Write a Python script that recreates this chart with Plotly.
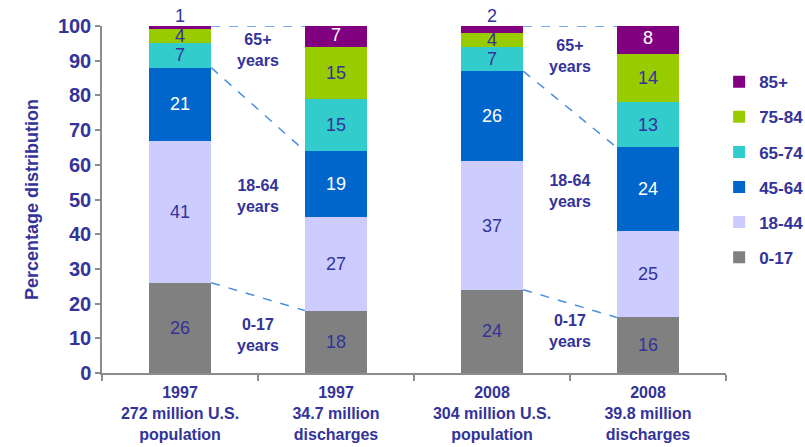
import plotly.graph_objects as go

# Category labels (one per stacked bar)
groups = [
    "1997<br>272 million U.S.<br>population",
    "1997<br>34.7 million<br>discharges",
    "2008<br>304 million U.S.<br>population",
    "2008<br>39.8 million<br>discharges",
]

# Percentage distribution by age group, one value per bar
age_groups = ["0-17", "18-44", "45-64", "65-74", "75-84", "85+"]
share_0_17 = [26, 18, 24, 16]
share_18_44 = [41, 27, 37, 25]
share_45_64 = [21, 19, 26, 24]
share_65_74 = [7, 15, 7, 13]
share_75_84 = [4, 15, 4, 14]
share_85_plus = [1, 7, 2, 8]

y_ticks = [0, 10, 20, 30, 40, 50, 60, 70, 80, 90, 100]

series = [share_0_17, share_18_44, share_45_64, share_65_74, share_75_84, share_85_plus]
colors = ["#808080", "#CCCCFF", "#0066CC", "#33CCCC", "#99CC00", "#800080"]
TXT = "#333399"
FONT = "Liberation Sans, Arial, sans-serif"
BAR_W = 0.4
Y_MAX = 100
x_pos = list(range(len(groups)))

fig = go.Figure()

for k, (name, vals, col) in enumerate(zip(age_groups, series, colors)):
    white = name == "45-64"
    is_top = name == "85+"
    fig.add_trace(go.Bar(
        x=x_pos, y=vals, name=name, width=BAR_W,
        marker=dict(color=col, line=dict(width=0)),
        # the top segment is labelled separately below
        text=None if is_top else [str(v) for v in vals],
        textposition="inside", insidetextanchor="middle", textangle=0,
        insidetextfont=dict(family=FONT, size=18, color="white" if white else TXT),
        hoverinfo="skip", legendgroup=name,
        legendrank=100 - k,  # oldest age group at the top of the legend
    ))

# labels for the 85+ segments: inside (white) when there is room, above the bar otherwise
below_top = [sum(s[i] for s in series[:-1]) for i in x_pos]
for inside in (True, False):
    idx = [i for i in x_pos if (share_85_plus[i] >= 3) == inside]
    if inside:
        ys = [min(below_top[i] + share_85_plus[i] / 2, (below_top[i] + Y_MAX) / 2) for i in idx]
    else:
        ys = [Y_MAX for _ in idx]
    fig.add_trace(go.Scatter(
        x=idx, y=ys, text=[str(share_85_plus[i]) for i in idx],
        mode="text", textposition="middle center" if inside else "top center",
        textfont=dict(family=FONT, size=18, color="white" if inside else TXT),
        cliponaxis=False, showlegend=False, hoverinfo="skip",
    ))

# dashed connectors between population and discharge bars
def levels(i):
    c1 = share_0_17[i]
    c2 = c1 + share_18_44[i] + share_45_64[i]
    c3 = min(sum(s[i] for s in series), Y_MAX)
    return [c1, c2, c3]

for a in (0, 2):
    b = a + 1
    for ya, yb in zip(levels(a), levels(b)):
        fig.add_trace(go.Scatter(
            x=[a + BAR_W / 2, b - BAR_W / 2], y=[ya, yb], mode="lines",
            line=dict(color="#4A8FE0", width=1.5, dash="dash"),
            showlegend=False, hoverinfo="skip", cliponaxis=False,
        ))

band_labels = [
    (0.5, 93, "65+<br>years"), (0.5, 51, "18-64<br>years"), (0.5, 11, "0-17<br>years"),
    (2.5, 91.5, "65+<br>years"), (2.5, 52.5, "18-64<br>years"), (2.5, 12, "0-17<br>years"),
]
for x, y, t in band_labels:
    fig.add_annotation(x=x, y=y, text=t, showarrow=False,
                       font=dict(family=FONT, size=16, color=TXT, weight="bold"))

fig.update_layout(
    width=805, height=447,
    margin=dict(l=102, r=79, t=26, b=74, autoexpand=False),
    barmode="stack",
    plot_bgcolor="white", paper_bgcolor="white",
    font=dict(family=FONT, color=TXT),
    uniformtext=dict(mode="show", minsize=18),
    showlegend=True,
    legend=dict(
        traceorder="grouped", x=0.989, xanchor="left", y=0.89, yanchor="top",
        font=dict(family=FONT, size=17, color=TXT, weight="bold"),
        tracegroupgap=10, itemwidth=30, bgcolor="rgba(0,0,0,0)",
    ),
    xaxis=dict(
        range=[-0.5, 3.5], tickmode="array", tickvals=x_pos, ticktext=groups,
        ticks="", showline=True, linecolor="#8C8C8C", linewidth=1.5,
        showgrid=False, zeroline=False, ticklabelstandoff=4,
        tickfont=dict(family=FONT, size=16, color=TXT, weight="bold"),
        minor=dict(tickmode="array", tickvals=[-0.5, 0.5, 1.5, 2.5, 3.5],
                   ticks="outside", ticklen=6, tickcolor="#8C8C8C", tickwidth=1.5,
                   showgrid=False),
    ),
    yaxis=dict(
        range=[0, Y_MAX], tickmode="array", tickvals=y_ticks,
        ticks="outside", ticklen=5, tickcolor="#8C8C8C", tickwidth=1.5,
        showline=True, linecolor="#8C8C8C", linewidth=1.5,
        showgrid=False, zeroline=False,
        tickfont=dict(family=FONT, size=20, color=TXT, weight="bold"),
        title=dict(text="Percentage distribution", standoff=15,
                   font=dict(family=FONT, size=18, color=TXT, weight="bold")),
    ),
)

fig.write_html("out.html")
